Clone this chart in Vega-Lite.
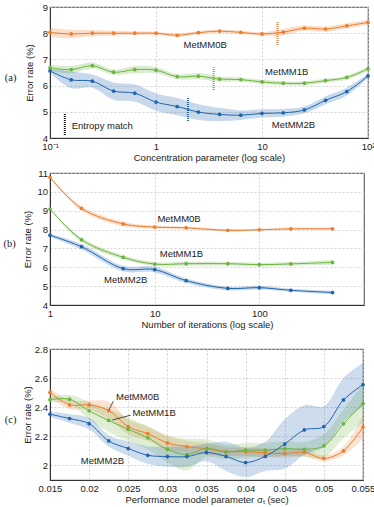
{
"$schema": "https://vega.github.io/schema/vega-lite/v6.json",
"padding": {"left": 2, "top": 1, "right": 0, "bottom": 0},
"spacing": 13,
"config": {
  "font": "Liberation Sans",
  "view": {"stroke": "#666", "strokeWidth": 1.2},
  "axis": {"labelFont": "Liberation Sans", "labelFontSize": 9.5, "titleFont": "Liberation Sans", "titleFontSize": 9.5, "titleFontWeight": "normal", "labelColor": "#222", "titleColor": "#222", "domainColor": "#333", "ticks": false, "gridColor": "#c8c8c8", "gridDash": [2, 2], "gridWidth": 0.8, "labelPadding": 3, "titlePadding": 2, "labelOverlap": false},
  "axisX": {"labelFlush": false},
  "axisY": {"labelPadding": 2.5},
  "title": {"font": "Liberation Serif", "fontSize": 10.5, "fontWeight": "normal", "color": "#222", "orient": "left", "angle": 0, "frame": "group", "anchor": "middle", "align": "right", "baseline": "middle"}
},
"datasets": {
  "a": [
    {"s": "MetMM0B", "x": 0.1, "y": 8.03, "lo": 7.85, "hi": 8.21},
    {"s": "MetMM0B", "x": 0.1585, "y": 7.97, "lo": 7.81, "hi": 8.13},
    {"s": "MetMM0B", "x": 0.2512, "y": 8.0, "lo": 7.88, "hi": 8.12},
    {"s": "MetMM0B", "x": 0.3981, "y": 8.0, "lo": 7.91, "hi": 8.09},
    {"s": "MetMM0B", "x": 0.631, "y": 8.0, "lo": 7.93, "hi": 8.07},
    {"s": "MetMM0B", "x": 1, "y": 8.0, "lo": 7.94, "hi": 8.06},
    {"s": "MetMM0B", "x": 1.585, "y": 7.92, "lo": 7.86, "hi": 7.98},
    {"s": "MetMM0B", "x": 2.512, "y": 8.02, "lo": 7.96, "hi": 8.08},
    {"s": "MetMM0B", "x": 3.981, "y": 8.08, "lo": 8.02, "hi": 8.14},
    {"s": "MetMM0B", "x": 6.31, "y": 8.03, "lo": 7.97, "hi": 8.09},
    {"s": "MetMM0B", "x": 10, "y": 7.97, "lo": 7.9, "hi": 8.04},
    {"s": "MetMM0B", "x": 15.85, "y": 8.04, "lo": 7.92, "hi": 8.16},
    {"s": "MetMM0B", "x": 25.12, "y": 8.19, "lo": 8.09, "hi": 8.29},
    {"s": "MetMM0B", "x": 39.81, "y": 8.16, "lo": 8.06, "hi": 8.26},
    {"s": "MetMM0B", "x": 63.1, "y": 8.28, "lo": 8.18, "hi": 8.38},
    {"s": "MetMM0B", "x": 100, "y": 8.41, "lo": 8.32, "hi": 8.5},
    {"s": "MetMM1B", "x": 0.1, "y": 6.68, "lo": 6.56, "hi": 6.8},
    {"s": "MetMM1B", "x": 0.1585, "y": 6.61, "lo": 6.47, "hi": 6.75},
    {"s": "MetMM1B", "x": 0.2512, "y": 6.76, "lo": 6.64, "hi": 6.88},
    {"s": "MetMM1B", "x": 0.3981, "y": 6.51, "lo": 6.41, "hi": 6.61},
    {"s": "MetMM1B", "x": 0.631, "y": 6.61, "lo": 6.47, "hi": 6.75},
    {"s": "MetMM1B", "x": 1, "y": 6.59, "lo": 6.47, "hi": 6.71},
    {"s": "MetMM1B", "x": 1.585, "y": 6.34, "lo": 6.24, "hi": 6.44},
    {"s": "MetMM1B", "x": 2.512, "y": 6.36, "lo": 6.24, "hi": 6.48},
    {"s": "MetMM1B", "x": 3.981, "y": 6.25, "lo": 6.15, "hi": 6.35},
    {"s": "MetMM1B", "x": 6.31, "y": 6.23, "lo": 6.15, "hi": 6.31},
    {"s": "MetMM1B", "x": 10, "y": 6.14, "lo": 6.06, "hi": 6.22},
    {"s": "MetMM1B", "x": 15.85, "y": 6.09, "lo": 6.01, "hi": 6.17},
    {"s": "MetMM1B", "x": 25.12, "y": 6.09, "lo": 6.01, "hi": 6.17},
    {"s": "MetMM1B", "x": 39.81, "y": 6.19, "lo": 6.11, "hi": 6.27},
    {"s": "MetMM1B", "x": 63.1, "y": 6.31, "lo": 6.23, "hi": 6.39},
    {"s": "MetMM1B", "x": 100, "y": 6.64, "lo": 6.56, "hi": 6.72},
    {"s": "MetMM2B", "x": 0.1, "y": 6.56, "lo": 6.48, "hi": 6.64},
    {"s": "MetMM2B", "x": 0.1585, "y": 6.22, "lo": 5.9, "hi": 6.54},
    {"s": "MetMM2B", "x": 0.2512, "y": 6.17, "lo": 5.92, "hi": 6.42},
    {"s": "MetMM2B", "x": 0.3981, "y": 5.79, "lo": 5.46, "hi": 6.12},
    {"s": "MetMM2B", "x": 0.631, "y": 5.71, "lo": 5.38, "hi": 6.04},
    {"s": "MetMM2B", "x": 1, "y": 5.37, "lo": 5.04, "hi": 5.7},
    {"s": "MetMM2B", "x": 1.585, "y": 5.2, "lo": 4.87, "hi": 5.53},
    {"s": "MetMM2B", "x": 2.512, "y": 4.99, "lo": 4.69, "hi": 5.29},
    {"s": "MetMM2B", "x": 3.981, "y": 4.9, "lo": 4.65, "hi": 5.15},
    {"s": "MetMM2B", "x": 6.31, "y": 4.87, "lo": 4.69, "hi": 5.05},
    {"s": "MetMM2B", "x": 10, "y": 4.94, "lo": 4.78, "hi": 5.1},
    {"s": "MetMM2B", "x": 15.85, "y": 4.96, "lo": 4.81, "hi": 5.11},
    {"s": "MetMM2B", "x": 25.12, "y": 5.07, "lo": 4.94, "hi": 5.2},
    {"s": "MetMM2B", "x": 39.81, "y": 5.44, "lo": 5.29, "hi": 5.59},
    {"s": "MetMM2B", "x": 63.1, "y": 5.77, "lo": 5.62, "hi": 5.92},
    {"s": "MetMM2B", "x": 100, "y": 6.37, "lo": 6.29, "hi": 6.45}
  ],
  "amark": [
    {"s": "MetMM0B", "x": 14, "y1": 7.55, "y2": 8.43},
    {"s": "MetMM1B", "x": 3.5, "y1": 5.83, "y2": 6.7},
    {"s": "MetMM2B", "x": 2.0, "y1": 4.65, "y2": 5.55},
    {"s": "Entropy", "x": 0.138, "y1": 4.11, "y2": 4.93}
  ],
  "alab": [
    {"t": "MetMM0B", "x": 2.91, "y": 7.55},
    {"t": "MetMM1B", "x": 17.1, "y": 6.52},
    {"t": "MetMM2B", "x": 19.8, "y": 4.49}
  ],
  "aent": [
    {"t": "Entropy match", "x": 0.16, "y": 4.45}
  ],
  "b": [
    {"s": "MetMM0B", "x": 1, "y": 10.77, "lo": 10.75, "hi": 10.79},
    {"s": "MetMM0B", "x": 2, "y": 9.12, "lo": 9.0, "hi": 9.24},
    {"s": "MetMM0B", "x": 5, "y": 8.3, "lo": 8.18, "hi": 8.42},
    {"s": "MetMM0B", "x": 10, "y": 8.13, "lo": 8.05, "hi": 8.21},
    {"s": "MetMM0B", "x": 20, "y": 8.09, "lo": 8.03, "hi": 8.15},
    {"s": "MetMM0B", "x": 50, "y": 7.96, "lo": 7.9, "hi": 8.02},
    {"s": "MetMM0B", "x": 100, "y": 7.99, "lo": 7.94, "hi": 8.04},
    {"s": "MetMM0B", "x": 200, "y": 8.04, "lo": 7.98, "hi": 8.1},
    {"s": "MetMM0B", "x": 500, "y": 8.04, "lo": 7.98, "hi": 8.1},
    {"s": "MetMM1B", "x": 1, "y": 9.09, "lo": 9.07, "hi": 9.11},
    {"s": "MetMM1B", "x": 2, "y": 7.46, "lo": 7.34, "hi": 7.58},
    {"s": "MetMM1B", "x": 5, "y": 6.53, "lo": 6.41, "hi": 6.65},
    {"s": "MetMM1B", "x": 10, "y": 6.17, "lo": 6.07, "hi": 6.27},
    {"s": "MetMM1B", "x": 20, "y": 6.19, "lo": 6.07, "hi": 6.31},
    {"s": "MetMM1B", "x": 50, "y": 6.19, "lo": 6.09, "hi": 6.29},
    {"s": "MetMM1B", "x": 100, "y": 6.14, "lo": 6.04, "hi": 6.24},
    {"s": "MetMM1B", "x": 200, "y": 6.18, "lo": 6.08, "hi": 6.28},
    {"s": "MetMM1B", "x": 500, "y": 6.26, "lo": 6.13, "hi": 6.39},
    {"s": "MetMM2B", "x": 1, "y": 7.7, "lo": 7.62, "hi": 7.78},
    {"s": "MetMM2B", "x": 2, "y": 7.09, "lo": 6.94, "hi": 7.24},
    {"s": "MetMM2B", "x": 5, "y": 5.93, "lo": 5.78, "hi": 6.08},
    {"s": "MetMM2B", "x": 10, "y": 5.88, "lo": 5.73, "hi": 6.03},
    {"s": "MetMM2B", "x": 20, "y": 5.29, "lo": 5.17, "hi": 5.41},
    {"s": "MetMM2B", "x": 50, "y": 4.88, "lo": 4.78, "hi": 4.98},
    {"s": "MetMM2B", "x": 100, "y": 4.92, "lo": 4.82, "hi": 5.02},
    {"s": "MetMM2B", "x": 200, "y": 4.78, "lo": 4.7, "hi": 4.86},
    {"s": "MetMM2B", "x": 500, "y": 4.66, "lo": 4.56, "hi": 4.76}
  ],
  "blab": [
    {"t": "MetMM0B", "x": 17.1, "y": 8.56},
    {"t": "MetMM1B", "x": 18, "y": 6.7},
    {"t": "MetMM2B", "x": 5.28, "y": 5.35}
  ],
  "c": [
    {"s": "MetMM0B", "x": 0.015, "y": 2.502, "lo": 2.472, "hi": 2.532},
    {"s": "MetMM0B", "x": 0.0175, "y": 2.416, "lo": 2.386, "hi": 2.446},
    {"s": "MetMM0B", "x": 0.02, "y": 2.416, "lo": 2.386, "hi": 2.446},
    {"s": "MetMM0B", "x": 0.0225, "y": 2.377, "lo": 2.317, "hi": 2.437},
    {"s": "MetMM0B", "x": 0.025, "y": 2.266, "lo": 2.216, "hi": 2.316},
    {"s": "MetMM0B", "x": 0.0275, "y": 2.218, "lo": 2.168, "hi": 2.268},
    {"s": "MetMM0B", "x": 0.03, "y": 2.155, "lo": 2.105, "hi": 2.205},
    {"s": "MetMM0B", "x": 0.0325, "y": 2.13, "lo": 2.09, "hi": 2.17},
    {"s": "MetMM0B", "x": 0.035, "y": 2.114, "lo": 2.074, "hi": 2.154},
    {"s": "MetMM0B", "x": 0.0375, "y": 2.095, "lo": 2.065, "hi": 2.125},
    {"s": "MetMM0B", "x": 0.04, "y": 2.095, "lo": 2.065, "hi": 2.125},
    {"s": "MetMM0B", "x": 0.0425, "y": 2.086, "lo": 2.056, "hi": 2.116},
    {"s": "MetMM0B", "x": 0.045, "y": 2.082, "lo": 2.052, "hi": 2.112},
    {"s": "MetMM0B", "x": 0.0475, "y": 2.09, "lo": 2.06, "hi": 2.12},
    {"s": "MetMM0B", "x": 0.05, "y": 2.048, "lo": 2.028, "hi": 2.068},
    {"s": "MetMM0B", "x": 0.0525, "y": 2.1, "lo": 2.07, "hi": 2.13},
    {"s": "MetMM0B", "x": 0.055, "y": 2.264, "lo": 2.184, "hi": 2.344},
    {"s": "MetMM1B", "x": 0.015, "y": 2.452, "lo": 2.432, "hi": 2.472},
    {"s": "MetMM1B", "x": 0.0175, "y": 2.455, "lo": 2.425, "hi": 2.485},
    {"s": "MetMM1B", "x": 0.02, "y": 2.375, "lo": 2.315, "hi": 2.435},
    {"s": "MetMM1B", "x": 0.0225, "y": 2.309, "lo": 2.229, "hi": 2.389},
    {"s": "MetMM1B", "x": 0.025, "y": 2.248, "lo": 2.168, "hi": 2.328},
    {"s": "MetMM1B", "x": 0.0275, "y": 2.19, "lo": 2.11, "hi": 2.27},
    {"s": "MetMM1B", "x": 0.03, "y": 2.111, "lo": 2.021, "hi": 2.201},
    {"s": "MetMM1B", "x": 0.0325, "y": 2.075, "lo": 1.965, "hi": 2.185},
    {"s": "MetMM1B", "x": 0.035, "y": 2.118, "lo": 2.058, "hi": 2.178},
    {"s": "MetMM1B", "x": 0.0375, "y": 2.093, "lo": 2.043, "hi": 2.143},
    {"s": "MetMM1B", "x": 0.04, "y": 2.105, "lo": 2.055, "hi": 2.155},
    {"s": "MetMM1B", "x": 0.0425, "y": 2.105, "lo": 2.055, "hi": 2.155},
    {"s": "MetMM1B", "x": 0.045, "y": 2.116, "lo": 2.066, "hi": 2.166},
    {"s": "MetMM1B", "x": 0.0475, "y": 2.111, "lo": 2.061, "hi": 2.161},
    {"s": "MetMM1B", "x": 0.05, "y": 2.134, "lo": 2.054, "hi": 2.214},
    {"s": "MetMM1B", "x": 0.0525, "y": 2.286, "lo": 2.186, "hi": 2.386},
    {"s": "MetMM1B", "x": 0.055, "y": 2.425, "lo": 2.295, "hi": 2.555},
    {"s": "MetMM2B", "x": 0.015, "y": 2.352, "lo": 2.332, "hi": 2.372},
    {"s": "MetMM2B", "x": 0.0175, "y": 2.322, "lo": 2.292, "hi": 2.352},
    {"s": "MetMM2B", "x": 0.02, "y": 2.287, "lo": 2.247, "hi": 2.327},
    {"s": "MetMM2B", "x": 0.0225, "y": 2.168, "lo": 2.128, "hi": 2.208},
    {"s": "MetMM2B", "x": 0.025, "y": 2.116, "lo": 2.066, "hi": 2.166},
    {"s": "MetMM2B", "x": 0.0275, "y": 2.07, "lo": 2.01, "hi": 2.13},
    {"s": "MetMM2B", "x": 0.03, "y": 2.061, "lo": 1.991, "hi": 2.131},
    {"s": "MetMM2B", "x": 0.0325, "y": 2.061, "lo": 1.991, "hi": 2.131},
    {"s": "MetMM2B", "x": 0.035, "y": 2.089, "lo": 2.029, "hi": 2.149},
    {"s": "MetMM2B", "x": 0.0375, "y": 2.062, "lo": 1.962, "hi": 2.162},
    {"s": "MetMM2B", "x": 0.04, "y": 2.02, "lo": 1.92, "hi": 2.12},
    {"s": "MetMM2B", "x": 0.0425, "y": 2.062, "lo": 1.962, "hi": 2.162},
    {"s": "MetMM2B", "x": 0.045, "y": 2.147, "lo": 1.977, "hi": 2.317},
    {"s": "MetMM2B", "x": 0.0475, "y": 2.244, "lo": 2.074, "hi": 2.414},
    {"s": "MetMM2B", "x": 0.05, "y": 2.267, "lo": 2.127, "hi": 2.407},
    {"s": "MetMM2B", "x": 0.0525, "y": 2.45, "lo": 2.3, "hi": 2.6},
    {"s": "MetMM2B", "x": 0.055, "y": 2.555, "lo": 2.405, "hi": 2.705}
  ],
  "clab": [
    {"t": "MetMM0B", "x": 0.0262, "y": 2.47},
    {"t": "MetMM1B", "x": 0.0283, "y": 2.361},
    {"t": "MetMM2B", "x": 0.0217, "y": 2.032}
  ],
  "clead": [
    {"x": 0.0231, "y": 2.441, "x2": 0.02254, "y2": 2.384},
    {"x": 0.0253, "y": 2.345, "x2": 0.02296, "y2": 2.312}
  ]
},
"vconcat": [
 {
 "spacing": 4,
 "vconcat": [
  {
    "width": 318, "height": 131,
    "title": {"text": "(a)", "offset": 2},
    "layer": [
      {"data": {"name": "a"}, "mark": {"type": "area", "interpolate": "catmull-rom", "opacity": 0.25},
       "encoding": {
         "x": {"field": "x", "type": "quantitative", "scale": {"type": "log", "domain": [0.1, 100]}, "axis": {"title": "Concentration parameter (log scale)", "values": [0.1, 1, 10, 100], "labelExpr": "datum.value < 0.5 ? '10⁻¹' : datum.value > 50 ? '10²' : datum.label"}},
         "y": {"field": "lo", "type": "quantitative", "scale": {"domain": [4, 9], "nice": false, "zero": false}, "axis": {"title": "Error rate (%)", "values": [4, 5, 6, 7, 8, 9], "titlePadding": 8}},
         "y2": {"field": "hi"},
         "color": {"field": "s", "type": "nominal", "scale": {"domain": ["MetMM0B", "MetMM1B", "MetMM2B", "Entropy"], "range": ["#ee7d2d", "#6db33f", "#1f66ae", "#111111"]}, "legend": null}
       }},
      {"data": {"name": "a"}, "mark": {"type": "line", "interpolate": "catmull-rom", "strokeWidth": 1},
       "encoding": {
         "x": {"field": "x", "type": "quantitative", "axis": {"title": "Concentration parameter (log scale)", "values": [0.1, 1, 10, 100], "labelExpr": "datum.value < 0.5 ? '10⁻¹' : datum.value > 50 ? '10²' : datum.label"}},
         "y": {"field": "y", "type": "quantitative", "axis": {"title": "Error rate (%)", "values": [4, 5, 6, 7, 8, 9], "titlePadding": 8}},
         "color": {"field": "s", "type": "nominal", "legend": null}}},
      {"data": {"name": "a"}, "mark": {"type": "point", "filled": true, "opacity": 1, "size": 14},
       "encoding": {
         "x": {"field": "x", "type": "quantitative", "axis": {"title": "Concentration parameter (log scale)", "values": [0.1, 1, 10, 100], "labelExpr": "datum.value < 0.5 ? '10⁻¹' : datum.value > 50 ? '10²' : datum.label"}},
         "y": {"field": "y", "type": "quantitative", "axis": {"title": "Error rate (%)", "values": [4, 5, 6, 7, 8, 9], "titlePadding": 8}},
         "color": {"field": "s", "type": "nominal", "legend": null}}},
      {"data": {"name": "amark"}, "mark": {"type": "rule", "strokeWidth": 2, "strokeDash": [1, 1]},
       "encoding": {
         "x": {"field": "x", "type": "quantitative", "axis": {"title": "Concentration parameter (log scale)", "values": [0.1, 1, 10, 100], "labelExpr": "datum.value < 0.5 ? '10⁻¹' : datum.value > 50 ? '10²' : datum.label"}},
         "y": {"field": "y1", "type": "quantitative", "axis": {"title": "Error rate (%)", "values": [4, 5, 6, 7, 8, 9], "titlePadding": 8}},
         "y2": {"field": "y2"},
         "color": {"field": "s", "type": "nominal", "legend": null}}},
      {"data": {"name": "alab"}, "mark": {"type": "text", "fontSize": 9.5, "font": "Liberation Sans", "color": "#222", "align": "center", "baseline": "middle"},
       "encoding": {
         "x": {"field": "x", "type": "quantitative", "axis": {"title": "Concentration parameter (log scale)", "values": [0.1, 1, 10, 100], "labelExpr": "datum.value < 0.5 ? '10⁻¹' : datum.value > 50 ? '10²' : datum.label"}},
         "y": {"field": "y", "type": "quantitative", "axis": {"title": "Error rate (%)", "values": [4, 5, 6, 7, 8, 9], "titlePadding": 8}},
         "text": {"field": "t"}}},
      {"data": {"name": "aent"}, "mark": {"type": "text", "fontSize": 9.5, "font": "Liberation Sans", "color": "#222", "align": "left", "baseline": "middle"},
       "encoding": {
         "x": {"field": "x", "type": "quantitative", "axis": {"title": "Concentration parameter (log scale)", "values": [0.1, 1, 10, 100], "labelExpr": "datum.value < 0.5 ? '10⁻¹' : datum.value > 50 ? '10²' : datum.label"}},
         "y": {"field": "y", "type": "quantitative", "axis": {"title": "Error rate (%)", "values": [4, 5, 6, 7, 8, 9], "titlePadding": 8}},
         "text": {"field": "t"}}}
    ]
  },
  {
    "width": 314, "height": 132,
    "title": {"text": "(b)", "offset": 1},
    "layer": [
      {"data": {"name": "b"}, "mark": {"type": "area", "interpolate": "catmull-rom", "opacity": 0.25},
       "encoding": {
         "x": {"field": "x", "type": "quantitative", "scale": {"type": "log", "domain": [1, 600]}, "axis": {"title": "Number of iterations (log scale)", "values": [1, 10, 100]}},
         "y": {"field": "lo", "type": "quantitative", "scale": {"domain": [4, 11], "nice": false, "zero": false}, "axis": {"title": "Error rate (%)", "values": [4, 5, 6, 7, 8, 9, 10, 11], "titlePadding": 4}},
         "y2": {"field": "hi"},
         "color": {"field": "s", "type": "nominal", "scale": {"domain": ["MetMM0B", "MetMM1B", "MetMM2B"], "range": ["#ee7d2d", "#6db33f", "#1f66ae"]}, "legend": null}
       }},
      {"data": {"name": "b"}, "mark": {"type": "line", "interpolate": "catmull-rom", "strokeWidth": 1},
       "encoding": {
         "x": {"field": "x", "type": "quantitative", "axis": {"title": "Number of iterations (log scale)", "values": [1, 10, 100]}},
         "y": {"field": "y", "type": "quantitative", "axis": {"title": "Error rate (%)", "values": [4, 5, 6, 7, 8, 9, 10, 11], "titlePadding": 4}},
         "color": {"field": "s", "type": "nominal", "legend": null}}},
      {"data": {"name": "b"}, "mark": {"type": "point", "filled": true, "opacity": 1, "size": 14},
       "encoding": {
         "x": {"field": "x", "type": "quantitative", "axis": {"title": "Number of iterations (log scale)", "values": [1, 10, 100]}},
         "y": {"field": "y", "type": "quantitative", "axis": {"title": "Error rate (%)", "values": [4, 5, 6, 7, 8, 9, 10, 11], "titlePadding": 4}},
         "color": {"field": "s", "type": "nominal", "legend": null}}},
      {"data": {"name": "blab"}, "mark": {"type": "text", "fontSize": 9.5, "font": "Liberation Sans", "color": "#222", "align": "center", "baseline": "middle"},
       "encoding": {
         "x": {"field": "x", "type": "quantitative", "axis": {"title": "Number of iterations (log scale)", "values": [1, 10, 100]}},
         "y": {"field": "y", "type": "quantitative", "axis": {"title": "Error rate (%)", "values": [4, 5, 6, 7, 8, 9, 10, 11], "titlePadding": 4}},
         "text": {"field": "t"}}}
    ]
  }
 ]
 },
  {
    "width": 313, "height": 131,
    "title": {"text": "(c)", "offset": 0},
    "layer": [
      {"data": {"name": "c"}, "mark": {"type": "area", "interpolate": "catmull-rom", "opacity": 0.22},
       "encoding": {
         "x": {"field": "x", "type": "quantitative", "scale": {"domain": [0.015, 0.055], "nice": false, "zero": false}, "axis": {"title": "Performance model parameter  σₜ  (sec)", "values": [0.015, 0.02, 0.025, 0.03, 0.035, 0.04, 0.045, 0.05, 0.055], "format": "~g"}},
         "y": {"field": "lo", "type": "quantitative", "scale": {"domain": [1.9, 2.8], "nice": false, "zero": false}, "axis": {"title": "Error rate (%)", "values": [2, 2.2, 2.4, 2.6, 2.8], "format": "~g", "titlePadding": 2}},
         "y2": {"field": "hi"},
         "color": {"field": "s", "type": "nominal", "scale": {"domain": ["MetMM0B", "MetMM1B", "MetMM2B"], "range": ["#ee7d2d", "#6db33f", "#1f66ae"]}, "legend": null}
       }},
      {"data": {"name": "c"}, "mark": {"type": "line", "interpolate": "catmull-rom", "strokeWidth": 1},
       "encoding": {
         "x": {"field": "x", "type": "quantitative", "axis": {"title": "Performance model parameter  σₜ  (sec)", "values": [0.015, 0.02, 0.025, 0.03, 0.035, 0.04, 0.045, 0.05, 0.055], "format": "~g"}},
         "y": {"field": "y", "type": "quantitative", "axis": {"title": "Error rate (%)", "values": [2, 2.2, 2.4, 2.6, 2.8], "format": "~g", "titlePadding": 2}},
         "color": {"field": "s", "type": "nominal", "legend": null}}},
      {"data": {"name": "c"}, "mark": {"type": "point", "filled": true, "opacity": 1, "size": 14},
       "encoding": {
         "x": {"field": "x", "type": "quantitative", "axis": {"title": "Performance model parameter  σₜ  (sec)", "values": [0.015, 0.02, 0.025, 0.03, 0.035, 0.04, 0.045, 0.05, 0.055], "format": "~g"}},
         "y": {"field": "y", "type": "quantitative", "axis": {"title": "Error rate (%)", "values": [2, 2.2, 2.4, 2.6, 2.8], "format": "~g", "titlePadding": 2}},
         "color": {"field": "s", "type": "nominal", "legend": null}}},
      {"data": {"name": "clead"}, "mark": {"type": "rule", "strokeWidth": 0.8, "color": "#222"},
       "encoding": {
         "x": {"field": "x", "type": "quantitative", "axis": {"title": "Performance model parameter  σₜ  (sec)", "values": [0.015, 0.02, 0.025, 0.03, 0.035, 0.04, 0.045, 0.05, 0.055], "format": "~g"}},
         "y": {"field": "y", "type": "quantitative", "axis": {"title": "Error rate (%)", "values": [2, 2.2, 2.4, 2.6, 2.8], "format": "~g", "titlePadding": 2}},
         "x2": {"field": "x2"}, "y2": {"field": "y2"}}},
      {"data": {"name": "clab"}, "mark": {"type": "text", "fontSize": 9.5, "font": "Liberation Sans", "color": "#222", "align": "center", "baseline": "middle"},
       "encoding": {
         "x": {"field": "x", "type": "quantitative", "axis": {"title": "Performance model parameter  σₜ  (sec)", "values": [0.015, 0.02, 0.025, 0.03, 0.035, 0.04, 0.045, 0.05, 0.055], "format": "~g"}},
         "y": {"field": "y", "type": "quantitative", "axis": {"title": "Error rate (%)", "values": [2, 2.2, 2.4, 2.6, 2.8], "format": "~g", "titlePadding": 2}},
         "text": {"field": "t"}}}
    ]
  }
]
}
